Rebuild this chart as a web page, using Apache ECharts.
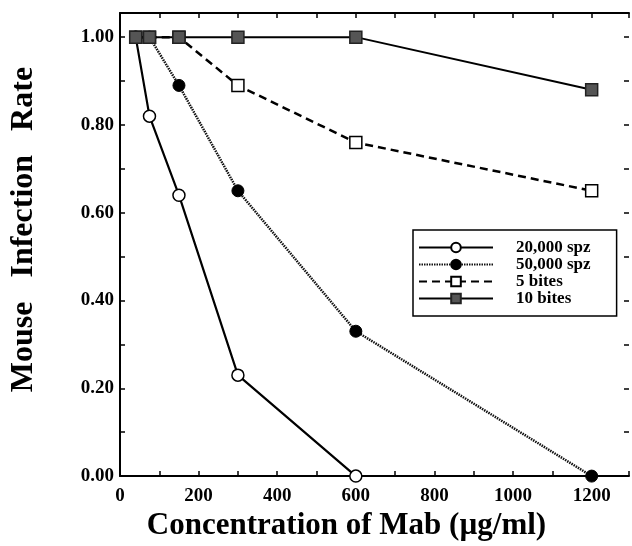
<!DOCTYPE html>
<html>
<head>
<meta charset="utf-8">
<script src="https://cdn.jsdelivr.net/npm/echarts@6/dist/echarts.min.js"></script>
<style>
  html, body { margin: 0; padding: 0; background: #fff; }
  #main { width: 632px; height: 546px; }
</style>
</head>
<body>
<div id="main"></div>
<script>
// data
const seriesNames = ['20,000 spz', '50,000 spz', '5 bites', '10 bites'];
const spz20k = [[40, 1.00], [75, 0.82], [150, 0.64], [300, 0.23], [600, 0.00]];
const spz50k = [[40, 1.00], [75, 1.00], [150, 0.89], [300, 0.65], [600, 0.33], [1200, 0.00]];
const bites5 = [[40, 1.00], [75, 1.00], [150, 1.00], [300, 0.89], [600, 0.76], [1200, 0.65]];
const bites10 = [[40, 1.00], [75, 1.00], [150, 1.00], [300, 1.00], [600, 1.00], [1200, 0.88]];

const FONT = '"Liberation Serif", "DejaVu Serif", serif';

const chart = echarts.init(document.getElementById('main'));

// shared frame axis settings
const xBase = {
    type: 'value',
    min: 0,
    max: 1295,
    interval: 100,
    splitLine: { show: false },
    axisLine: { show: true, onZero: false, lineStyle: { color: '#000', width: 2 } },
    axisTick: { show: true, inside: true, length: 5, lineStyle: { color: '#000', width: 1.5 } }
};
const yBase = {
    type: 'value',
    min: 0,
    max: 1.055,
    interval: 0.1,
    splitLine: { show: false },
    axisLine: { show: true, onZero: false, lineStyle: { color: '#000', width: 2 } },
    axisTick: { show: true, inside: true, length: 5, lineStyle: { color: '#000', width: 1.5 } }
};

const option = {
    backgroundColor: '#fff',
    animation: false,
    grid: { left: 117, right: 0, top: 13, bottom: 69 },
    legend: {
        data: seriesNames,
        orient: 'vertical',
        left: 413,
        top: 230,
        itemWidth: 74,
        itemHeight: 12,
        itemGap: 0,
        padding: [9, 26, 9, 5],
        borderColor: '#000',
        borderWidth: 1.5,
        backgroundColor: '#fff',
        textStyle: {
            fontFamily: FONT,
            fontWeight: 'bold',
            fontSize: 17,
            lineHeight: 16,
            color: '#000',
            padding: [0, 0, 0, 18]
        }
    },
    xAxis: [
        Object.assign({}, xBase, {
            position: 'bottom',
            name: 'Concentration of Mab (\u00b5g/ml)',
            nameLocation: 'middle',
            nameGap: 27,
            nameTextStyle: {
                fontFamily: FONT, fontWeight: 'bold', fontSize: 31, color: '#000',
                padding: [0, 56, 0, 0]
            },
            axisLabel: {
                margin: 10,
                fontFamily: FONT,
                fontWeight: 'bold',
                fontSize: 19,
                color: '#000',
                formatter: function (v) { return (v % 200 === 0 && v <= 1200) ? String(v) : ''; }
            }
        }),
        Object.assign({}, xBase, {
            position: 'top',
            axisLabel: { show: false }
        })
    ],
    yAxis: [
        Object.assign({}, yBase, {
            position: 'left',
            name: 'Mouse   Infection   Rate',
            nameLocation: 'middle',
            nameGap: 80,
            nameTextStyle: {
                fontFamily: FONT, fontWeight: 'bold', fontSize: 32, color: '#000',
                padding: [0, 0, 0, 30]
            },
            axisLabel: {
                margin: 6,
                fontFamily: FONT,
                fontWeight: 'bold',
                fontSize: 19,
                color: '#000',
                formatter: function (v) {
                    const k = Math.round(v * 10);
                    return (k % 2 === 0 && v <= 1.001) ? v.toFixed(2) : '';
                }
            }
        }),
        Object.assign({}, yBase, {
            position: 'right',
            axisLine: { show: false, onZero: false },
            axisLabel: { show: false }
        })
    ],
    series: [
        {
            name: seriesNames[0],
            type: 'line',
            data: spz20k,
            symbol: 'circle',
            symbolSize: 12,
            itemStyle: { color: '#fff', borderColor: '#000', borderWidth: 1.5 },
            lineStyle: { color: '#000', width: 2.2, type: 'solid' }
        },
        {
            name: seriesNames[1],
            type: 'line',
            data: spz50k,
            symbol: 'circle',
            symbolSize: 12,
            itemStyle: { color: '#000', borderColor: '#000', borderWidth: 1 },
            lineStyle: { color: '#111', width: 2.5, type: [1.5, 1] }
        },
        {
            name: seriesNames[2],
            type: 'line',
            data: bites5,
            symbol: 'rect',
            symbolSize: 12,
            itemStyle: { color: '#fff', borderColor: '#000', borderWidth: 1.5 },
            lineStyle: { color: '#000', width: 2.5, type: [8, 5] }
        },
        {
            name: seriesNames[3],
            type: 'line',
            data: bites10,
            symbol: 'rect',
            symbolSize: 12,
            itemStyle: { color: '#555', borderColor: '#222', borderWidth: 1.5 },
            lineStyle: { color: '#000', width: 2, type: 'solid' }
        }
    ]
};

chart.setOption(option);
</script>
</body>
</html>
